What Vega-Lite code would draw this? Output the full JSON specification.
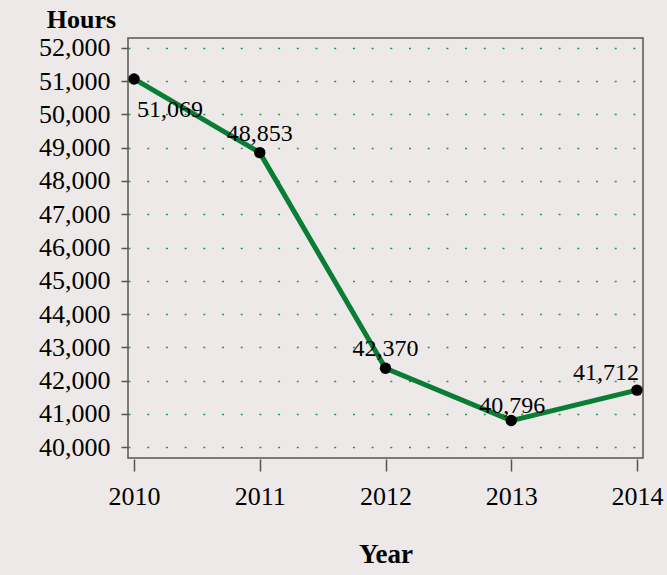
{
  "$schema": "https://vega.github.io/schema/vega-lite/v6.json",
  "autosize": "none",
  "width": 515,
  "height": 420,
  "padding": {"left": 128, "top": 38, "right": 24, "bottom": 117},
  "background": "#ECE9E8",
  "config": {
    "view": {"stroke": "#555555", "strokeWidth": 1.5, "fill": "#ECE9E8"},
    "font": "Liberation Serif"
  },
  "data": {
    "values": [
      {"Year": 2010, "Hours": 51069},
      {"Year": 2011, "Hours": 48853},
      {"Year": 2012, "Hours": 42370},
      {"Year": 2013, "Hours": 40796},
      {"Year": 2014, "Hours": 41712}
    ]
  },
  "encoding": {
    "x": {
      "field": "Year", "type": "quantitative",
      "scale": {"domain": [2009.952, 2014.048], "nice": false, "zero": false},
      "axis": {
        "values": [2010, 2011, 2012, 2013, 2014], "format": "d",
        "title": "Year", "titleFont": "Liberation Serif", "titleFontSize": 27, "titleFontWeight": "bold", "titleColor": "#000000", "titlePadding": 32,
        "labelFont": "Liberation Serif", "labelFontSize": 26, "labelColor": "#000000", "labelPadding": 12,
        "domain": false, "grid": false, "ticks": true, "tickSize": 12, "tickColor": "#555555", "tickWidth": 1.5, "offset": 1
      }
    },
    "y": {
      "field": "Hours", "type": "quantitative",
      "scale": {"domain": [39670, 52300], "nice": false, "zero": false},
      "axis": {
        "values": [40000, 41000, 42000, 43000, 44000, 45000, 46000, 47000, 48000, 49000, 50000, 51000, 52000],
        "format": ",.0f",
        "title": "Hours", "titleAngle": 0, "titleAnchor": "end", "titleAlign": "center", "titleBaseline": "middle",
        "titleX": -47, "titleY": -19,
        "titleFont": "Liberation Serif", "titleFontSize": 26, "titleFontWeight": "bold", "titleColor": "#000000",
        "labelFont": "Liberation Serif", "labelFontSize": 26, "labelColor": "#000000", "labelPadding": 11,
        "domain": false, "ticks": true, "tickSize": 7, "tickColor": "#555555", "tickWidth": 1.5,
        "grid": true, "gridColor": "#1F9A50", "gridWidth": 1.6, "gridDash": [2, 16.7]
      }
    }
  },
  "layer": [
    {"mark": {"type": "line", "color": "#0A7D35", "strokeWidth": 5}},
    {"mark": {"type": "point", "filled": true, "color": "#000000", "size": 130, "opacity": 1}},
    {"transform": [{"filter": "datum.Year == 2010"}],
     "mark": {"type": "text", "fontSize": 24, "color": "#000000", "dx": 36, "dy": 31, "baseline": "middle"},
     "encoding": {"text": {"field": "Hours", "type": "quantitative", "format": ","}}},
    {"transform": [{"filter": "datum.Year == 2011 || datum.Year == 2012"}],
     "mark": {"type": "text", "fontSize": 24, "color": "#000000", "dx": 0, "dy": -19, "baseline": "middle"},
     "encoding": {"text": {"field": "Hours", "type": "quantitative", "format": ","}}},
    {"transform": [{"filter": "datum.Year == 2013"}],
     "mark": {"type": "text", "fontSize": 24, "color": "#000000", "dx": 1, "dy": -15, "baseline": "middle"},
     "encoding": {"text": {"field": "Hours", "type": "quantitative", "format": ","}}},
    {"transform": [{"filter": "datum.Year == 2014"}],
     "mark": {"type": "text", "fontSize": 24, "color": "#000000", "dx": -31, "dy": -17, "baseline": "middle"},
     "encoding": {"text": {"field": "Hours", "type": "quantitative", "format": ","}}}
  ]
}
